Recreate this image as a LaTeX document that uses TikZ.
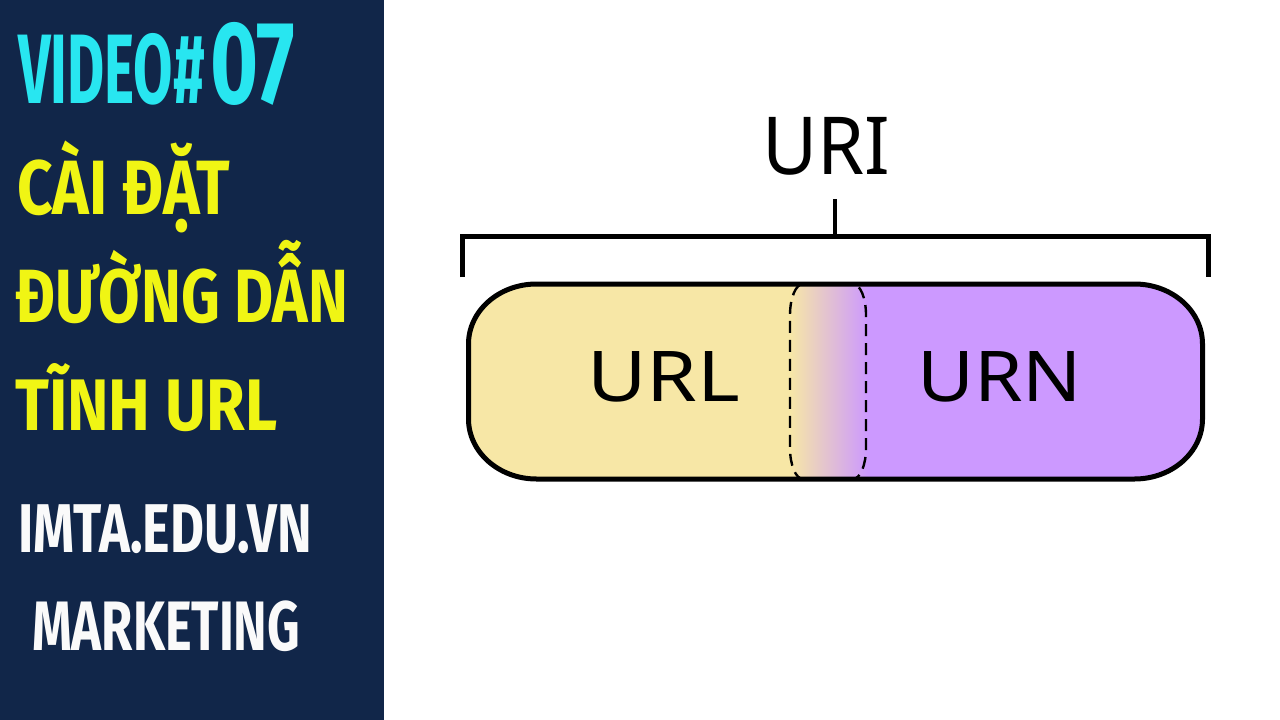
\documentclass[tikz,border=0pt]{standalone}
\usepackage{fontspec}
\usepackage{graphicx}
\newfontfamily\thumbfont{Fira Sans}
\newfontfamily\diagfont{Noto Sans}
\definecolor{navy}{RGB}{17,38,73}
\definecolor{cyanT}{RGB}{40,230,240}
\definecolor{yelT}{RGB}{240,245,20}
\definecolor{whiteT}{RGB}{250,250,250}
\definecolor{urlY}{RGB}{247,231,166}
\definecolor{urnP}{RGB}{204,153,255}
\newcommand\fitw[3]{\resizebox{#1pt}{\height}{\fontsize{#2pt}{#2pt}\selectfont #3}}
\begin{document}
\begin{tikzpicture}[x=1pt,y=-1pt,
  thumb/.style={anchor=base west, inner sep=0pt, font=\thumbfont\bfseries},
  diag/.style={anchor=base west, inner sep=0pt, font=\diagfont, text=black},
  bracketline/.style={line width=4.5pt, line cap=butt, line join=miter},
  pillborder/.style={line width=5pt, draw=black},
  overlapline/.style={line width=2.4pt, dash pattern=on 12pt off 7pt, draw=black}]
\useasboundingbox (0,0) rectangle (1280,720);
\fill[white] (0,0) rectangle (1280,720);
\fill[navy] (0,0) rectangle (384,720);

% left panel texts
\node[thumb, text=cyanT] (video) at (18,103) {\fitw{187}{98.7}{VIDEO\#}};
\node[thumb, text=cyanT] (num) at (210,103) {\fitw{85}{117.6}{07}};
\node[thumb, text=yelT] (l1) at (17,214) {\fitw{213}{77}{CÀI ĐẶT}};
\node[thumb, text=yelT] (l2) at (15,322) {\fitw{333}{75.5}{ĐƯỜNG DẪN}};
\node[thumb, text=yelT] (l3) at (15,430) {\fitw{262}{73}{TĨNH URL}};
\node[thumb, text=whiteT] (l4) at (18,552) {\fitw{294}{69}{IMTA.EDU.VN}};
\node[thumb, text=whiteT] (l5) at (32,650) {\fitw{268}{70}{MARKETING}};

% URI label and bracket
\node[diag] (uri) at (762,174) {\fitw{128}{80}{URI}};
\coordinate (tickTop) at (835,199);
\coordinate (tickBot) at (835,236.5);
\coordinate (brL) at (462.5,236.5);
\coordinate (brR) at (1208.5,236.5);
\coordinate (brLd) at (462.5,277);
\coordinate (brRd) at (1208.5,277);
\draw[bracketline] (brLd) -- (brL) -- (brR) -- (brRd);
\draw[bracketline] (tickBot) -- (tickTop);

% pill
\def\pill{(536.5,284) -- (1134.5,284)
  arc[start angle=270, end angle=360, x radius=68, y radius=60]
  -- (1202.5,419)
  arc[start angle=0, end angle=90, x radius=68, y radius=60]
  -- (536.5,479)
  arc[start angle=90, end angle=180, x radius=68, y radius=60]
  -- (468.5,344)
  arc[start angle=180, end angle=270, x radius=68, y radius=60]
  -- cycle}
\begin{scope}
  \clip \pill;
  \fill[urlY] (460,270) rectangle (790,490);
  \shade[left color=urlY, right color=urnP] (789.5,270) rectangle (868.5,490);
  \fill[urnP] (868,270) rectangle (1210,490);
\end{scope}
\draw[overlapline] (803,284) -- (853,284)
  arc[start angle=270, end angle=360, x radius=13, y radius=31]
  -- (866,448)
  arc[start angle=0, end angle=90, x radius=13, y radius=31]
  -- (803,479)
  arc[start angle=90, end angle=180, x radius=13, y radius=31]
  -- (790,315)
  arc[start angle=180, end angle=270, x radius=13, y radius=31]
  -- cycle;
\draw[pillborder] \pill;

\node[diag] (url) at (587,401) {\fitw{153}{70}{URL}};
\node[diag] (urn) at (917,401) {\fitw{165}{70}{URN}};
\end{tikzpicture}
\end{document}
